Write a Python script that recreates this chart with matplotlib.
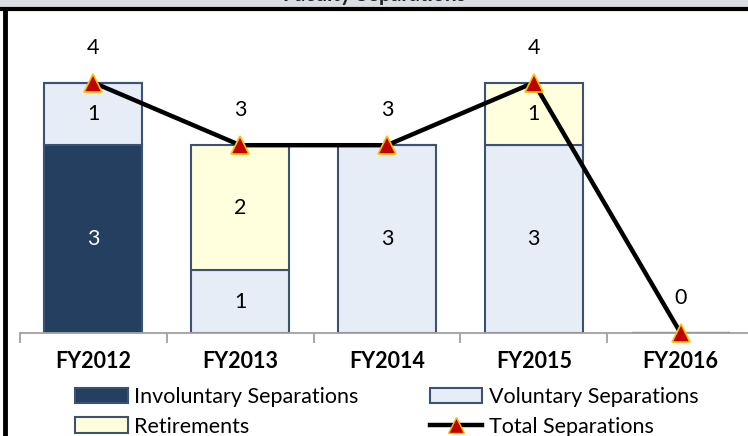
import matplotlib
matplotlib.use("Agg")
import matplotlib.pyplot as plt
from matplotlib.lines import Line2D
from matplotlib.patches import Patch
import numpy as np

plt.rcParams['font.family'] = ['Lato', 'DejaVu Sans']

years = ["FY2012", "FY2013", "FY2014", "FY2015", "FY2016"]
involuntary = [3, 0, 0, 0, 0]
voluntary = [1, 1, 3, 3, 0]
retirements = [0, 2, 0, 1, 0]
total = [4, 3, 3, 4, 0]

c_inv = "#243F60"
c_vol = "#E6EDF6"
c_ret = "#FFFFDD"
c_edge = "#3C5272"

W, H = 748, 436
fig = plt.figure(figsize=(W / 100, H / 100), dpi=100)

# title band (mostly cut off) and frame lines
fig.patches.append(plt.Rectangle((0, 1 - 9 / H), 1, 9 / H, transform=fig.transFigure,
                                 facecolor="#D9DEE5", edgecolor="none"))
fig.lines.append(Line2D([0, 1], [1 - 9.5 / H, 1 - 9.5 / H], transform=fig.transFigure,
                        color="black", lw=3))
fig.lines.append(Line2D([5 / W, 5 / W], [0, 1 - 9 / H], transform=fig.transFigure,
                        color="black", lw=3.5))
fig.text(0.5, 1 - 5 / H, "Faculty Separations", ha="center", va="bottom",
         fontsize=15, fontweight="bold", color="#222222")

ax = fig.add_axes([20 / W, (H - 333) / H, (754 - 20) / W, (333 - 20) / H])
ax.patch.set_alpha(0)

x = np.arange(len(years))
bw = 0.667
inv = np.array(involuntary)
vol = np.array(voluntary)
ret = np.array(retirements)

ax.bar(x, inv, bw, color=c_inv, edgecolor=c_edge, lw=1.5, zorder=2)
ax.bar(x, vol, bw, bottom=inv, color=c_vol, edgecolor=c_edge, lw=1.5, zorder=2)
ax.bar(x, ret, bw, bottom=inv + vol, color=c_ret, edgecolor=c_edge, lw=1.5, zorder=2)

# segment labels
for i in range(len(years)):
    base = 0
    for vals, col in [(inv, "white"), (vol, "black"), (ret, "black")]:
        if vals[i] > 0:
            ax.text(x[i], base + vals[i] / 2, str(vals[i]), ha="center", va="center",
                    fontsize=15.5, color=col, zorder=4)
        base += vals[i]

ax.plot(x, total, color="black", lw=3.2, marker="^", markersize=13,
        markerfacecolor="#C00000", markeredgecolor="#FFC000", markeredgewidth=1.2,
        zorder=5, clip_on=False)
for i, t in enumerate(total):
    ax.annotate(str(t), (x[i], t), xytext=(0, 25), textcoords="offset points",
                ha="center", va="center", fontsize=15.5)

ax.set_xlim(-0.5, len(years) - 0.5)
ax.set_ylim(0, 5.0)
ax.set_yticks([])
for s in ["top", "right", "left"]:
    ax.spines[s].set_visible(False)
ax.spines["bottom"].set_color("#A0A0A0")
ax.spines["bottom"].set_linewidth(1.3)

ax.set_xticks(np.arange(-0.5, len(years), 1.0))
ax.set_xticklabels([])
ax.tick_params(axis="x", which="major", length=7, width=1.3, color="#A0A0A0")
ax.set_xticks(x, minor=True)
ax.set_xticklabels(years, minor=True, fontsize=15.5, fontweight="bold")
ax.tick_params(axis="x", which="minor", length=0, pad=13)

handles = [
    Patch(facecolor=c_inv, edgecolor=c_edge, lw=1.5, label="Involuntary Separations"),
    Patch(facecolor=c_ret, edgecolor=c_edge, lw=1.5, label="Retirements"),
    Patch(facecolor=c_vol, edgecolor=c_edge, lw=1.5, label="Voluntary Separations"),
    Line2D([], [], color="black", lw=3.2, marker="^", markersize=11,
           markerfacecolor="#C00000", markeredgecolor="#FFC000", label="Total Separations"),
]
fig.legend(handles=handles, ncol=2, loc="center left", bbox_to_anchor=(75 / W, 1 - 412 / H),
           frameon=False, fontsize=15.5, handlelength=2.45, handleheight=0.7,
           handletextpad=0.3, columnspacing=3.3, labelspacing=0.42, borderpad=0,
           borderaxespad=0)

fig.savefig("out.png", dpi=100)
